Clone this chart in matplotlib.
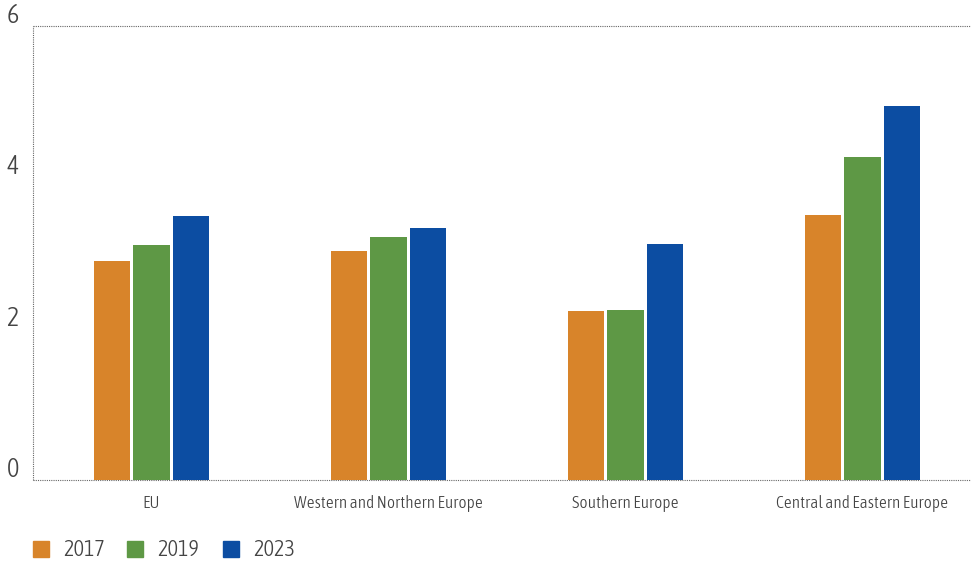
import numpy as np
import matplotlib
matplotlib.use("Agg")
import matplotlib.pyplot as plt
from matplotlib import font_manager

regions = ["EU", "Western and Northern Europe", "Southern Europe", "Central and Eastern Europe"]
years = ["2017", "2019", "2023"]
v2017 = [2.89, 3.03, 2.23, 3.50]
v2019 = [3.11, 3.21, 2.25, 4.27]
v2023 = [3.49, 3.33, 3.12, 4.94]
yticks = [0, 2, 4, 6]

COLORS = ["#D8842A", "#5E9845", "#0C4DA2"]
TXT = "#444444"

# narrow face if one is installed, light weight first
narrow = [f for f in font_manager.fontManager.ttflist
          if ("Narrow" in f.fname or "ondensed" in f.fname)
          and not any(k in f.fname for k in ("Bold", "Italic", "Oblique", "Black", "Thin", "Medium"))]
narrow.sort(key=lambda f: (0 if "Light" in f.fname and "Extra" not in f.fname else 1, f.fname))
FP = dict(fontproperties=font_manager.FontProperties(fname=narrow[0].fname)) if narrow else {}

def fp(size):
    if not FP:
        return dict(fontsize=size)
    p = FP["fontproperties"].copy()
    p.set_size(size)
    return dict(fontproperties=p)

fig = plt.figure(figsize=(9.71, 5.62), dpi=100)
ax = fig.add_axes([33 / 971, 1 - 480 / 562, 948 / 971, 454 / 562])

x = np.arange(len(regions))
w, step = 0.152, 0.166
for i, (vals, c, lab) in enumerate(zip([v2017, v2019, v2023], COLORS, years)):
    ax.bar(x + (i - 1) * step, vals, width=w, color=c, label=lab, zorder=2)

ax.set_xlim(-0.5, 3.5)
ax.set_ylim(0, 6)
ax.set_xticks([])
ax.set_yticks([])

# y labels sit just above their level, left of the axis
ytr = ax.get_yaxis_transform()
for v in yticks:
    ax.text(-14 / 948, v + 0.04, str(v), transform=ytr, ha="right", va="baseline",
            color=TXT, clip_on=False, **fp(19))
for xi, r in zip(x, regions):
    ax.text(xi, -0.2, r, ha="center", va="top", color=TXT, **fp(12.5))

for s in ax.spines.values():
    s.set_visible(False)
dot = dict(color="#666666", lw=0.8, ls=(0, (1, 1)), clip_on=False, zorder=1)
ax.axhline(6, **dot)
ax.axhline(0, **dot)
ax.axvline(-0.5, **dot)

# legend: coloured squares with year labels
lx = [33, 127, 223]
for px, c, lab in zip(lx, COLORS, years):
    fig.patches.append(plt.Rectangle((px / 971, 1 - 557 / 562), 16 / 971, 16 / 562,
                                     transform=fig.transFigure, color=c))
    fig.text((px + 30) / 971, 1 - 556 / 562, lab, ha="left", va="baseline",
             color=TXT, **fp(16))

fig.savefig("out.png", dpi=100)
